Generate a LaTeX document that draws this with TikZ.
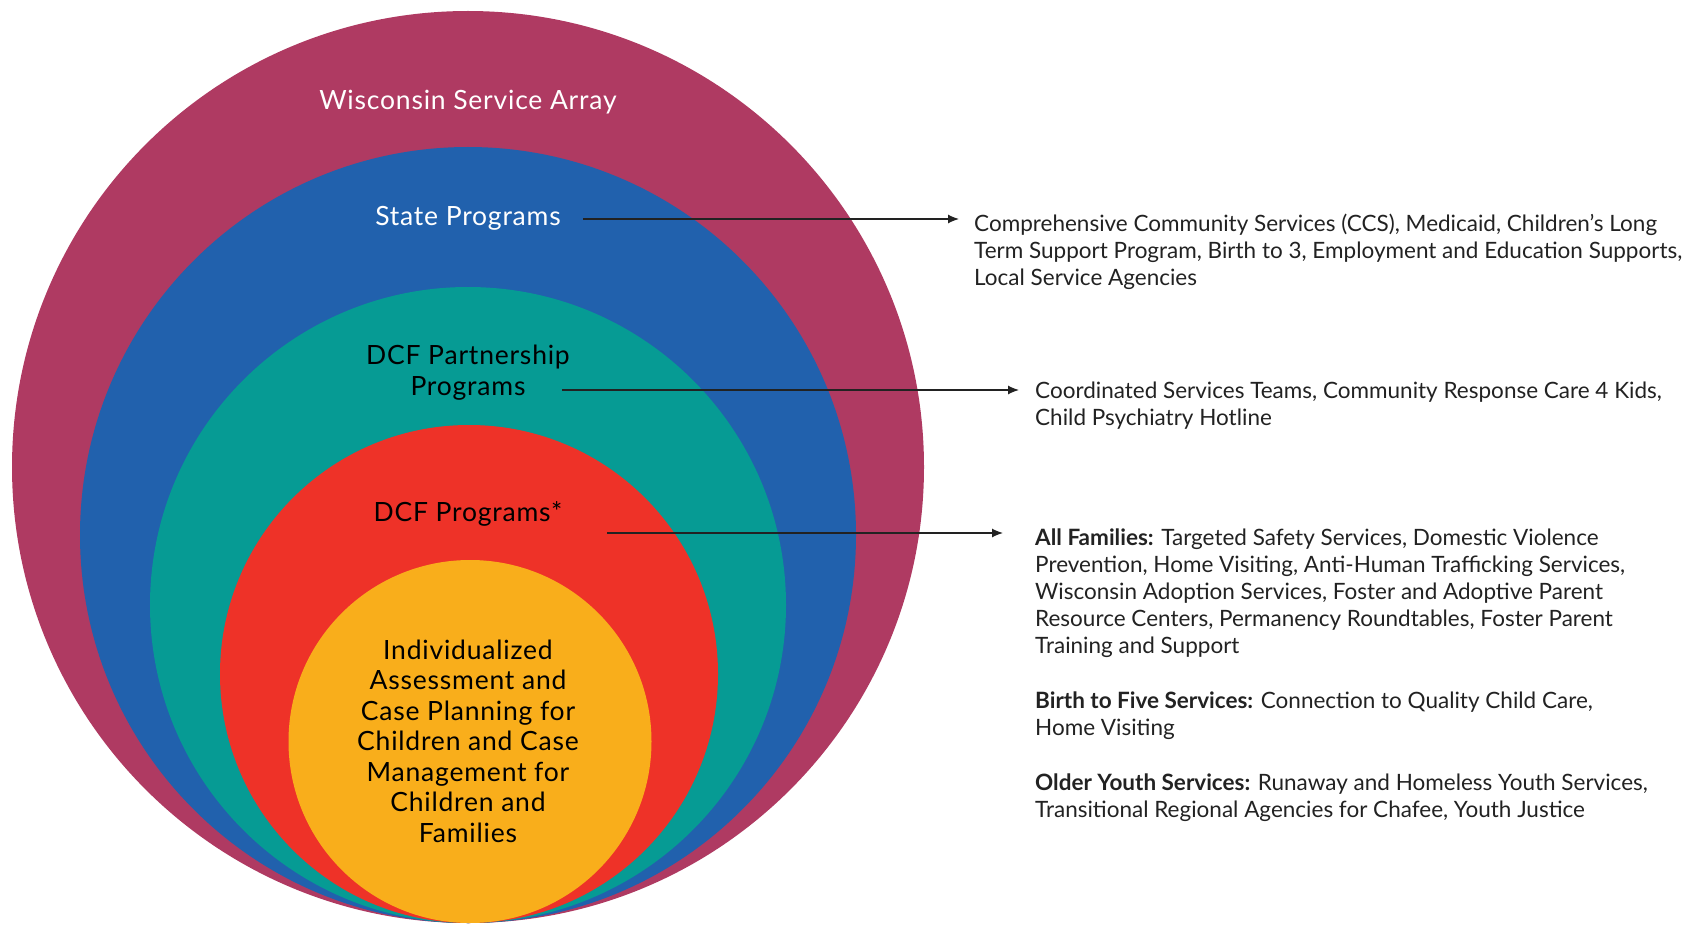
\documentclass[tikz,border=0pt]{standalone}
\usepackage{fontspec}
\setmainfont{Lato}
\newfontfamily\ringfont[LetterSpace=3]{Lato}
\usetikzlibrary{positioning, arrows.meta}
\definecolor{carray}{HTML}{AF3A62}
\definecolor{cstate}{HTML}{2161AD}
\definecolor{cpartner}{HTML}{069B94}
\definecolor{cdcf}{HTML}{EE3228}
\definecolor{ccase}{HTML}{F9AE1B}
\definecolor{ctexte}{HTML}{222222}

\tikzset{
  ring/.style={circle, inner sep=0pt, minimum size=#1},
  ringlabel/.style={font=\ringfont\fontsize{26.5}{30}\selectfont, align=center, inner sep=0pt},
  listtxt/.style={font=\fontsize{22.5}{27}\selectfont, text=ctexte, align=left,
                  anchor=north west, inner sep=0pt},
  fleche/.style={-{Latex[length=11pt, width=9pt]}, line width=1.2pt, ctexte}
}

\begin{document}
\begin{tikzpicture}[x=1pt, y=-1pt]
  \useasboundingbox (0,0) rectangle (1694,925);

  % cercles emboites, tous tangents en bas
  \node[ring=912pt, fill=carray]   (array)   at (468,467)   {};
  \node[ring=776pt, fill=cstate]   (state)   at (468,535)   {};
  \node[ring=636pt, fill=cpartner] (partner) at (468,605)   {};
  \node[ring=498pt, fill=cdcf]     (dcf)     at (469,674)   {};
  \node[ring=363pt, fill=ccase]    (case)    at (470,741.5) {};

  \node[ringlabel, text=white] (l-array)   at (468,102) {Wisconsin Service Array};
  \node[ringlabel, text=white] (l-state)   at (468,218) {State Programs};
  \node[ringlabel, text=black, font=\ringfont\fontsize{26.5}{31}\selectfont]
       (l-partner) at (468,373) {DCF Partnership\\Programs};
  \node[ringlabel, text=black] (l-dcf)     at (468,514) {DCF Programs*};
  \node[ringlabel, text=black, font=\ringfont\fontsize{26.5}{30.5}\selectfont]
       (l-case) at (468,741) {Individualized\\Assessment and\\Case Planning for\\Children and Case\\Management for\\Children and\\Families};

  % listes a droite
  \node[listtxt] (t-state) at (974,213.5)
       {Comprehensive Community Services (CCS), Medicaid, Children’s Long\\
        Term Support Program, Birth to 3, Employment and Education Supports,\\
        Local Service Agencies};
  \node[listtxt] (t-partner) at (1035,381.5)
       {Coordinated Services Teams, Community Response Care 4 Kids,\\
        Child Psychiatry Hotline};
  \node[listtxt] (t-all) at (1035,528.5)
       {\textbf{All Families:} Targeted Safety Services, Domestic Violence\\
        Prevention, Home Visiting, Anti-Human Trafficking Services,\\
        Wisconsin Adoption Services, Foster and Adoptive Parent\\
        Resource Centers, Permanency Roundtables, Foster Parent\\
        Training and Support};
  \node[listtxt, below=34pt of t-all.south west, anchor=north west] (t-birth)
       {\textbf{Birth to Five Services:} Connection to Quality Child Care,\\
        Home Visiting};
  \node[listtxt, below=34pt of t-birth.south west, anchor=north west] (t-older)
       {\textbf{Older Youth Services:} Runaway and Homeless Youth Services,\\
        Transitional Regional Agencies for Chafee, Youth Justice};

  % fleches
  \coordinate (o-state)   at (583,219);
  \coordinate (o-partner) at (562,390);
  \coordinate (o-dcf)     at (607,533);
  \draw[fleche, shorten >=15pt] (o-state)   -- (o-state -| t-state.west);
  \draw[fleche, shorten >=16pt] (o-partner) -- (o-partner -| t-partner.west);
  \draw[fleche, shorten >=32pt] (o-dcf)     -- (o-dcf -| t-all.west);
\end{tikzpicture}
\end{document}
